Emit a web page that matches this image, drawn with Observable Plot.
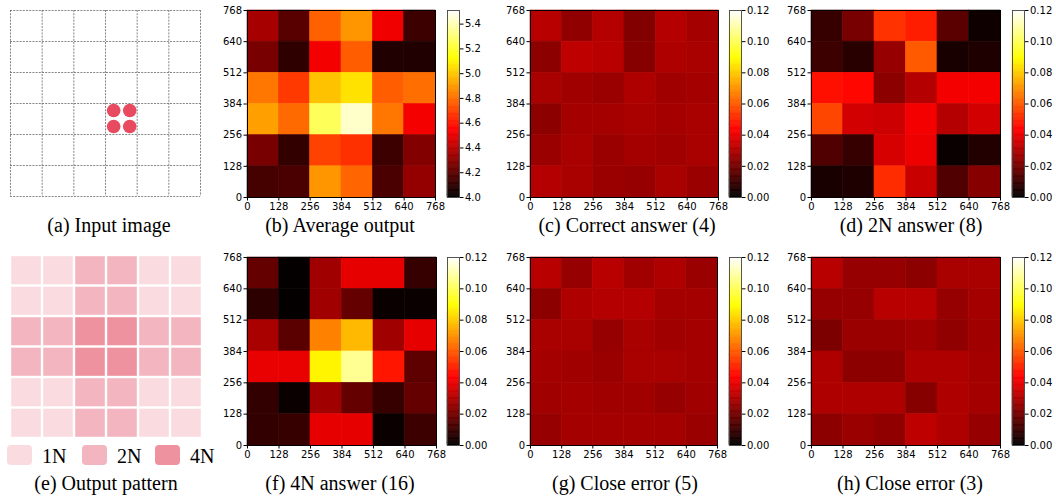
<!DOCTYPE html>
<html><head><meta charset="utf-8">
<script src="https://cdn.jsdelivr.net/npm/d3@7"></script>
<script src="https://cdn.jsdelivr.net/npm/@observablehq/plot@0.6"></script>
<style>
body{margin:0;background:#fff;}
#fig{position:relative;width:1056px;height:496px;overflow:hidden;background:#fff;}
#fig svg{position:absolute;overflow:visible;}
.cap{position:absolute;font-family:"Liberation Serif","Times New Roman",serif;font-size:20px;color:#000;white-space:nowrap;transform:translate(-50%,-50%);line-height:1;}
.sw{position:absolute;width:25px;height:20px;border-radius:4px;}
</style></head><body><div id="fig"></div>
<script>
// ---------- data ----------
const axisTicks = [0, 128, 256, 384, 512, 640, 768];
const avgTicks = [4.0, 4.2, 4.4, 4.6, 4.8, 5.0, 5.2, 5.4];
const probTicks = [0.00, 0.02, 0.04, 0.06, 0.08, 0.10, 0.12];
const avgDomain = [4.0, 5.51];
const probDomain = [0, 0.12];

// rows listed from top (y 640–768) to bottom (y 0–128)
const avgOutput = [
  [4.36, 4.19, 4.77, 4.89, 4.52, 4.13],
  [4.26, 4.10, 4.53, 4.76, 4.07, 4.07],
  [4.82, 4.68, 4.99, 5.06, 4.76, 4.80],
  [4.91, 4.79, 5.26, 5.43, 4.82, 4.53],
  [4.26, 4.11, 4.70, 4.66, 4.13, 4.28],
  [4.15, 4.16, 4.89, 4.78, 4.16, 4.32]
];
const correctAnswer = [
  [0.0317, 0.0249, 0.0309, 0.0223, 0.0310, 0.0283],
  [0.0240, 0.0326, 0.0317, 0.0232, 0.0300, 0.0290],
  [0.0290, 0.0275, 0.0266, 0.0300, 0.0275, 0.0283],
  [0.0240, 0.0283, 0.0283, 0.0290, 0.0283, 0.0290],
  [0.0266, 0.0290, 0.0266, 0.0283, 0.0275, 0.0290],
  [0.0310, 0.0290, 0.0266, 0.0258, 0.0290, 0.0266]
];
const answer2N = [
  [0.0094, 0.0206, 0.0528, 0.0490, 0.0155, 0.0026],
  [0.0103, 0.0069, 0.0258, 0.0600, 0.0043, 0.0052],
  [0.0465, 0.0450, 0.0240, 0.0310, 0.0420, 0.0420],
  [0.0564, 0.0360, 0.0350, 0.0420, 0.0310, 0.0360],
  [0.0137, 0.0094, 0.0370, 0.0410, 0.0017, 0.0060],
  [0.0043, 0.0052, 0.0517, 0.0344, 0.0137, 0.0230]
];
const answer4N = [
  [0.0172, 0.0009, 0.0275, 0.0395, 0.0395, 0.0094],
  [0.0077, 0.0009, 0.0275, 0.0172, 0.0017, 0.0017],
  [0.0290, 0.0155, 0.0670, 0.0770, 0.0275, 0.0395],
  [0.0400, 0.0400, 0.0877, 0.1070, 0.0475, 0.0163],
  [0.0086, 0.0017, 0.0275, 0.0172, 0.0094, 0.0172],
  [0.0086, 0.0094, 0.0395, 0.0395, 0.0017, 0.0103]
];
const closeError5 = [
  [0.0317, 0.0258, 0.0317, 0.0275, 0.0300, 0.0266],
  [0.0240, 0.0300, 0.0310, 0.0310, 0.0283, 0.0283],
  [0.0290, 0.0290, 0.0258, 0.0290, 0.0275, 0.0283],
  [0.0283, 0.0275, 0.0266, 0.0290, 0.0290, 0.0283],
  [0.0275, 0.0283, 0.0275, 0.0275, 0.0258, 0.0275],
  [0.0258, 0.0283, 0.0283, 0.0283, 0.0283, 0.0266]
];
const closeError3 = [
  [0.0317, 0.0258, 0.0258, 0.0240, 0.0290, 0.0290],
  [0.0258, 0.0258, 0.0317, 0.0317, 0.0258, 0.0283],
  [0.0215, 0.0266, 0.0266, 0.0275, 0.0249, 0.0275],
  [0.0300, 0.0240, 0.0240, 0.0300, 0.0300, 0.0283],
  [0.0300, 0.0300, 0.0300, 0.0232, 0.0300, 0.0283],
  [0.0240, 0.0266, 0.0249, 0.0326, 0.0300, 0.0258]
];
const outputPattern = [
  [1, 1, 2, 2, 1, 1],
  [1, 1, 2, 2, 1, 1],
  [2, 2, 4, 4, 2, 2],
  [2, 2, 4, 4, 2, 2],
  [1, 1, 2, 2, 1, 1],
  [1, 1, 2, 2, 1, 1]
];
const patternLevels = [1, 2, 4];
const patternLabels = ["1N", "2N", "4N"];
const patternColors = ["#f9dbe0", "#f3b6c0", "#ee929f"];
const inputDots = [
  {x: 417, y: 355}, {x: 482, y: 355},
  {x: 417, y: 289}, {x: 482, y: 289}
];
const captions = [
  "(a) Input image", "(b) Average output", "(c) Correct answer (4)", "(d) 2N answer (8)",
  "(e) Output pattern", "(f) 4N answer (16)", "(g) Close error (5)", "(h) Close error (3)"
];

// ---------- helpers ----------
const fig = document.getElementById("fig");
function place(el, left, top) { el.style.left = left + "px"; el.style.top = top + "px"; fig.appendChild(el); }
function hot(t) {
  t = Math.max(0, Math.min(1, t));
  const a = 0.365079, b = 0.746032;
  const r = Math.min(1, t / a);
  const g = Math.max(0, Math.min(1, (t - a) / (b - a)));
  const bl = Math.max(0, Math.min(1, (t - b) / (1 - b)));
  return `rgb(${Math.round(r * 255)},${Math.round(g * 255)},${Math.round(bl * 255)})`;
}
function toCells(grid) {
  const cells = [];
  grid.forEach((row, i) => row.forEach((v, j) => cells.push({
    x1: axisTicks[j], x2: axisTicks[j + 1], y1: axisTicks[5 - i], y2: axisTicks[6 - i], v
  })));
  return cells;
}
const tickStyle = {fontFamily: "DejaVu Sans", fontSize: "10px", background: "transparent", color: "#000", overflow: "visible"};

function heat(grid, x0, y0, W, H, domain) {
  const ml = 34, mt = 8, mr = 6, mb = 22;
  const svg = Plot.plot({
    width: W + ml + mr, height: H + mt + mb,
    marginLeft: ml, marginTop: mt, marginRight: mr, marginBottom: mb,
    x: {domain: [0, 768], ticks: axisTicks, tickSize: 3.5, tickPadding: 2, label: null},
    y: {domain: [0, 768], ticks: axisTicks, tickSize: 3.5, tickPadding: 2, label: null},
    color: {type: "linear", domain, interpolate: hot},
    style: tickStyle,
    marks: [
      Plot.rect(toCells(grid), {x1: "x1", x2: "x2", y1: "y1", y2: "y2", fill: "v", stroke: "v", strokeWidth: 0.6}),
      Plot.frame({stroke: "#000", strokeWidth: 1})
    ]
  });
  place(svg, x0 - ml, y0 - mt);
}
function cbar(x0, y0, H, domain, cticks, fmt) {
  const W = 12, mt = 8, mr = 36, mb = 8;
  const n = 160;
  const steps = d3.range(n).map(k => ({
    a: domain[0] + (domain[1] - domain[0]) * k / n,
    b: domain[0] + (domain[1] - domain[0]) * (k + 1) / n
  }));
  const svg = Plot.plot({
    width: W + mr, height: H + mt + mb,
    marginLeft: 0, marginRight: mr, marginTop: mt, marginBottom: mb,
    x: {axis: null, domain: [0, 1]},
    y: {domain, ticks: cticks, tickFormat: fmt, tickSize: 3.5, tickPadding: 2, label: null, axis: "right"},
    color: {type: "linear", domain, interpolate: hot},
    style: tickStyle,
    marks: [
      Plot.rect(steps, {x1: 0, x2: 1, y1: "a", y2: "b", fill: d => (d.a + d.b) / 2, stroke: d => (d.a + d.b) / 2, strokeWidth: 0.6}),
      Plot.frame({stroke: "#444", strokeWidth: 0.9})
    ]
  });
  place(svg, x0, y0 - mt);
}
function caption(text, cx, cy) {
  const d = document.createElement("div");
  d.className = "cap"; d.textContent = text;
  d.style.left = cx + "px"; d.style.top = cy + "px";
  fig.appendChild(d);
}

// ---------- (a) input image ----------
{
  const W = 190, H = 186, m = 1;
  const svg = Plot.plot({
    width: W + 2 * m, height: H + 2 * m, margin: m,
    x: {domain: [0, 768], axis: null}, y: {domain: [0, 768], axis: null},
    style: {background: "transparent", overflow: "visible"},
    marks: [
      Plot.ruleX(axisTicks, {stroke: "#666", strokeWidth: 0.8, strokeDasharray: "2,1.2"}),
      Plot.ruleY(axisTicks, {stroke: "#666", strokeWidth: 0.8, strokeDasharray: "2,1.2"}),
      Plot.dot(inputDots, {x: "x", y: "y", r: 6.8, fill: "#e84a5f", stroke: "none"})
    ]
  });
  place(svg, 10 - m, 10 - m);
}

// ---------- (e) output pattern ----------
{
  const W = 192, H = 183, m = 0;
  const svg = Plot.plot({
    width: W, height: H, margin: m,
    x: {domain: [0, 768], axis: null}, y: {domain: [0, 768], axis: null},
    color: {type: "ordinal", domain: patternLevels, range: patternColors},
    style: {background: "transparent"},
    marks: [
      Plot.rect(toCells(outputPattern), {x1: "x1", x2: "x2", y1: "y1", y2: "y2", fill: "v", inset: 1.2})
    ]
  });
  place(svg, 10, 255);
  const swX = [7, 82, 155], txX = [42, 117, 190];
  patternLabels.forEach((lab, k) => {
    const s = document.createElement("div");
    s.className = "sw"; s.style.background = patternColors[k];
    s.style.left = swX[k] + "px"; s.style.top = "445px";
    fig.appendChild(s);
    const t = document.createElement("div");
    t.className = "cap"; t.textContent = lab;
    t.style.transform = "translate(0,-50%)";
    t.style.left = txX[k] + "px"; t.style.top = "456px";
    fig.appendChild(t);
  });
}

// ---------- heatmaps ----------
const colX = [247, 530, 811];
const cbX = [447, 729, 1012];
const rowY = [10, 257], rowH = [187, 188];
const fmt1 = d3.format(".1f"), fmt2 = d3.format(".2f");

heat(avgOutput, colX[0], rowY[0], 188, rowH[0], avgDomain);
cbar(cbX[0], rowY[0], rowH[0], avgDomain, avgTicks, fmt1);
heat(correctAnswer, colX[1], rowY[0], 188, rowH[0], probDomain);
cbar(cbX[1], rowY[0], rowH[0], probDomain, probTicks, fmt2);
heat(answer2N, colX[2], rowY[0], 189, rowH[0], probDomain);
cbar(cbX[2], rowY[0], rowH[0], probDomain, probTicks, fmt2);

heat(answer4N, colX[0], rowY[1], 189, rowH[1], probDomain);
cbar(cbX[0], rowY[1], rowH[1], probDomain, probTicks, fmt2);
heat(closeError5, colX[1], rowY[1], 187, rowH[1], probDomain);
cbar(cbX[1], rowY[1], rowH[1], probDomain, probTicks, fmt2);
heat(closeError3, colX[2], rowY[1], 189, rowH[1], probDomain);
cbar(cbX[2], rowY[1], rowH[1], probDomain, probTicks, fmt2);

// ---------- captions ----------
const capX = [109, 340, 627, 911, 106, 340, 625, 910];
captions.forEach((c, k) => caption(c, capX[k], k < 4 ? 225 : 483));
</script></body></html>
